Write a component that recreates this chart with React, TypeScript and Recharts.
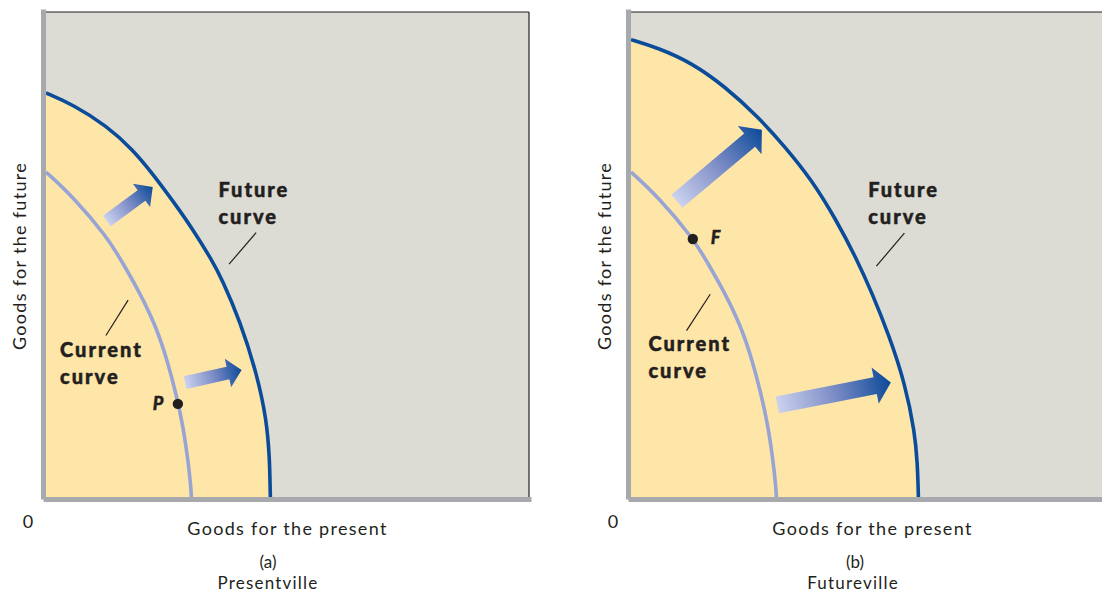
import React from 'react';
import {
  ComposedChart,
  Area,
  Line,
  XAxis,
  YAxis,
  CartesianGrid,
  ReferenceLine,
  ReferenceDot,
} from 'recharts';

// ---- data (units 0..100 on both axes) ----
const currentCurve = [
  { x: 0, y: 67.0 },
  { x: 5.6, y: 61.9 },
  { x: 12.8, y: 53.4 },
  { x: 15.5, y: 48.9 },
  { x: 19.5, y: 42.0 },
  { x: 22.8, y: 35.1 },
  { x: 25.1, y: 28.2 },
  { x: 26.9, y: 21.4 },
  { x: 28.4, y: 14.5 },
  { x: 29.4, y: 7.6 },
  { x: 30.0, y: 2.0 },
  { x: 30.1, y: 0 },
];

const futureCurveA = [
  { x: 0, y: 83.3 },
  { x: 5.6, y: 80.9 },
  { x: 12.6, y: 76.5 },
  { x: 18.0, y: 71.6 },
  { x: 22.2, y: 66.5 },
  { x: 26.3, y: 61.0 },
  { x: 30.4, y: 55.2 },
  { x: 34.3, y: 48.9 },
  { x: 36.4, y: 45.0 },
  { x: 40.2, y: 36.2 },
  { x: 43.6, y: 25.6 },
  { x: 45.7, y: 15.9 },
  { x: 46.3, y: 7.6 },
  { x: 46.4, y: 2.0 },
  { x: 46.45, y: 0 },
];

const futureCurveB = [
  { x: 0, y: 94.3 },
  { x: 5.6, y: 92.6 },
  { x: 12.6, y: 89.5 },
  { x: 19.5, y: 84.6 },
  { x: 26.3, y: 78.4 },
  { x: 31.9, y: 72.2 },
  { x: 37.4, y: 65.4 },
  { x: 42.5, y: 57.1 },
  { x: 46.5, y: 49.5 },
  { x: 49.9, y: 42.1 },
  { x: 53.5, y: 33.1 },
  { x: 56.7, y: 23.5 },
  { x: 58.8, y: 13.2 },
  { x: 59.3, y: 6.6 },
  { x: 59.45, y: 2.0 },
  { x: 59.5, y: 0 },
];

const pointP = { x: 27.3, y: 19.2, name: 'P' };
const pointF = { x: 12.8, y: 53.2, name: 'F' };

const arrowsA = [
  { from: { x: 12.6, y: 56.9 }, to: { x: 22.1, y: 63.9 } },
  { from: { x: 28.8, y: 23.6 }, to: { x: 40.5, y: 26.2 } },
];
const arrowsB = [
  { from: { x: 9.5, y: 61.0 }, to: { x: 27.1, y: 75.7 } },
  { from: { x: 30.3, y: 19.0 }, to: { x: 53.8, y: 23.6 } },
];

const leadersA = [
  { from: { x: 43.5, y: 54.5 }, to: { x: 37.9, y: 48.0 } },
  { from: { x: 17.0, y: 40.6 }, to: { x: 12.4, y: 33.3 } },
];
const leadersB = [
  { from: { x: 56.6, y: 54.4 }, to: { x: 50.8, y: 47.6 } },
  { from: { x: 16.4, y: 41.8 }, to: { x: 11.5, y: 34.3 } },
];

const labelsA = [
  { x: 35.7, y: 61.9, lines: ['Future', 'curve'] },
  { x: 2.9, y: 28.8, lines: ['Current', 'curve'] },
];
const labelsB = [
  { x: 49.1, y: 61.9, lines: ['Future', 'curve'] },
  { x: 3.6, y: 30.2, lines: ['Current', 'curve'] },
];

const xTitle = 'Goods for the present';
const yTitle = 'Goods for the future';
const originLabel = '0';

// ---- styles ----
const FONT = 'Lato, "Open Sans", sans-serif';
const GRAY_BG = '#dcdbd4';
const YELLOW = '#fee6a9';
const DARK_BLUE = '#0b4c9a';
const LIGHT_BLUE = '#97a4d4';
const AXIS_GRAY = '#a7a9ac';
const INK = '#231f20';

const W = 560;
const H = 593;

function makeArrow(id: string, bodyW: number, headW: number, headL: number) {
  return (p: any) => {
    const { x1, y1, x2, y2 } = p;
    if (x1 == null || y1 == null || x2 == null || y2 == null) return <g />;
    const dx = x2 - x1;
    const dy = y2 - y1;
    const len = Math.hypot(dx, dy) || 1;
    const ux = dx / len;
    const uy = dy / len;
    const nx = -uy;
    const ny = ux;
    const bx = x2 - ux * headL;
    const by = y2 - uy * headL;
    const pts = [
      [x1 + (nx * bodyW) / 2, y1 + (ny * bodyW) / 2],
      [bx + (nx * bodyW) / 2, by + (ny * bodyW) / 2],
      [bx + (nx * headW) / 2, by + (ny * headW) / 2],
      [x2, y2],
      [bx - (nx * headW) / 2, by - (ny * headW) / 2],
      [bx - (nx * bodyW) / 2, by - (ny * bodyW) / 2],
      [x1 - (nx * bodyW) / 2, y1 - (ny * bodyW) / 2],
    ];
    return (
      <g>
        <defs>
          <linearGradient id={id} gradientUnits="userSpaceOnUse" x1={x1} y1={y1} x2={x2} y2={y2}>
            <stop offset="0" stopColor="#cbd2ee" />
            <stop offset="0.5" stopColor="#7c8cc6" />
            <stop offset="1" stopColor="#0c4a99" />
          </linearGradient>
        </defs>
        <polygon points={pts.map((q) => q.join(',')).join(' ')} fill={`url(#${id})`} />
      </g>
    );
  };
}

function makeLabel(lines: string[]) {
  return (p: any) => (
    <text
      x={p.cx}
      y={p.cy}
      fontFamily={FONT}
      fontWeight={900}
      fontSize={20}
      letterSpacing={2}
      fill={INK}
      stroke={INK}
      strokeWidth={0.5}
    >
      {lines.map((l, i) => (
        <tspan key={i} x={p.cx} dy={i === 0 ? 0 : 27}>
          {l}
        </tspan>
      ))}
    </text>
  );
}

function makePointLabel(name: string, dx: number, dy: number) {
  return (p: any) => (
    <g>
      <circle cx={p.cx} cy={p.cy} r={5.2} fill={INK} />
      <text
        x={p.cx + dx}
        y={p.cy + dy}
        fontFamily={FONT}
        fontWeight={900}
        fontStyle="italic"
        fontSize={18}
        fill={INK}
        stroke={INK}
        strokeWidth={0.4}
      >
        {name}
      </text>
    </g>
  );
}

type PanelProps = {
  id: string;
  left: number;
  future: { x: number; y: number }[];
  arrows: { from: { x: number; y: number }; to: { x: number; y: number } }[];
  arrowSize: [number, number, number];
  leaders: { from: { x: number; y: number }; to: { x: number; y: number } }[];
  labels: { x: number; y: number; lines: string[] }[];
  point: { x: number; y: number; name: string };
  pointDx: number;
  pointDy: number;
  rightBorder: boolean;
  letter: string;
  place: string;
  letterX: number;
};

function Panel(props: PanelProps) {
  const {
    id, left, future, arrows, arrowSize, leaders, labels, point, pointDx, pointDy,
    rightBorder, letter, place, letterX,
  } = props;
  return (
    <div style={{ position: 'absolute', left, top: 0, width: W, height: H }}>
      <ComposedChart
        width={W}
        height={H}
        margin={{ top: 12, right: 31, bottom: 95, left: 45 }}
      >
        <CartesianGrid fill={GRAY_BG} stroke="none" horizontal={false} vertical={false} />
        <XAxis
          type="number"
          dataKey="x"
          domain={[0, 100]}
          allowDataOverflow
          height={1}
          tick={false}
          tickLine={false}
          axisLine={{
            stroke: AXIS_GRAY,
            strokeWidth: 5,
            strokeLinecap: 'square',
            transform: 'translate(0,2.5)',
          }}
        />
        <YAxis
          type="number"
          dataKey="y"
          domain={[0, 100]}
          allowDataOverflow
          width={1}
          tick={false}
          tickLine={false}
          axisLine={{
            stroke: AXIS_GRAY,
            strokeWidth: 5,
            strokeLinecap: 'square',
            transform: 'translate(-2.5,0)',
          }}
        />
        <Area
          data={future}
          dataKey="y"
          type="basis"
          fill={YELLOW}
          fillOpacity={1}
          stroke="none"
          isAnimationActive={false}
          dot={false}
          activeDot={false}
        />
        <Line
          data={currentCurve}
          dataKey="y"
          type="basis"
          stroke={LIGHT_BLUE}
          strokeWidth={3.6}
          dot={false}
          activeDot={false}
          isAnimationActive={false}
        />
        <Line
          data={future}
          dataKey="y"
          type="basis"
          stroke={DARK_BLUE}
          strokeWidth={3.6}
          dot={false}
          activeDot={false}
          isAnimationActive={false}
        />
        <ReferenceLine y={100} stroke={INK} strokeWidth={1.2} />
        {rightBorder && <ReferenceLine x={100} stroke={INK} strokeWidth={1.2} />}
        {arrows.map((a, i) => (
          <ReferenceLine
            key={`ar${i}`}
            segment={[a.from, a.to]}
            shape={makeArrow(`${id}-grad-${i}`, arrowSize[0], arrowSize[1], arrowSize[2])}
          />
        ))}
        {leaders.map((l, i) => (
          <ReferenceLine key={`ld${i}`} segment={[l.from, l.to]} stroke={INK} strokeWidth={1.2} />
        ))}
        {labels.map((l, i) => (
          <ReferenceDot key={`lb${i}`} x={l.x} y={l.y} r={1} shape={makeLabel(l.lines)} />
        ))}
        <ReferenceDot x={point.x} y={point.y} r={5} shape={makePointLabel(point.name, pointDx, pointDy)} />
      </ComposedChart>
      <svg
        width={W}
        height={H}
        style={{ position: 'absolute', left: 0, top: 0, pointerEvents: 'none' }}
      >
        <text
          x={0}
          y={0}
          transform="translate(19,256) rotate(-90)"
          textAnchor="middle"
          dominantBaseline="central"
          fontFamily={FONT}
          fontSize={18}
          letterSpacing={1.3}
          fill={INK}
        >
          {yTitle}
        </text>
        <text
          x={287.5}
          y={528}
          textAnchor="middle"
          dominantBaseline="central"
          fontFamily={FONT}
          fontSize={18}
          letterSpacing={1.3}
          fill={INK}
        >
          {xTitle}
        </text>
        <text
          x={28}
          y={521}
          textAnchor="middle"
          dominantBaseline="central"
          fontFamily={FONT}
          fontSize={18}
          fill={INK}
        >
          {originLabel}
        </text>
        <text
          x={letterX}
          y={561}
          textAnchor="middle"
          dominantBaseline="central"
          fontFamily={FONT}
          fontSize={17}
          fill={INK}
        >
          {letter}
        </text>
        <text
          x={268}
          y={582}
          textAnchor="middle"
          dominantBaseline="central"
          fontFamily={FONT}
          fontSize={17}
          letterSpacing={1.2}
          fill={INK}
        >
          {place}
        </text>
      </svg>
    </div>
  );
}

export default function App() {
  return (
    <div
      style={{
        position: 'fixed',
        left: 0,
        top: 0,
        width: 1102,
        height: 593,
        overflow: 'hidden',
        background: '#ffffff',
      }}
    >
      <Panel
        id="a"
        left={0}
        future={futureCurveA}
        arrows={arrowsA}
        arrowSize={[13, 29, 14]}
        leaders={leadersA}
        labels={labelsA}
        point={pointP}
        pointDx={-25}
        pointDy={6}
        rightBorder={true}
        letter="(a)"
        place="Presentville"
        letterX={268}
      />
      <Panel
        id="b"
        left={585}
        future={futureCurveB}
        arrows={arrowsB}
        arrowSize={[17, 37, 16]}
        leaders={leadersB}
        labels={labelsB}
        point={pointF}
        pointDx={18}
        pointDy={5}
        rightBorder={false}
        letter="(b)"
        place="Futureville"
        letterX={270}
      />
    </div>
  );
}
